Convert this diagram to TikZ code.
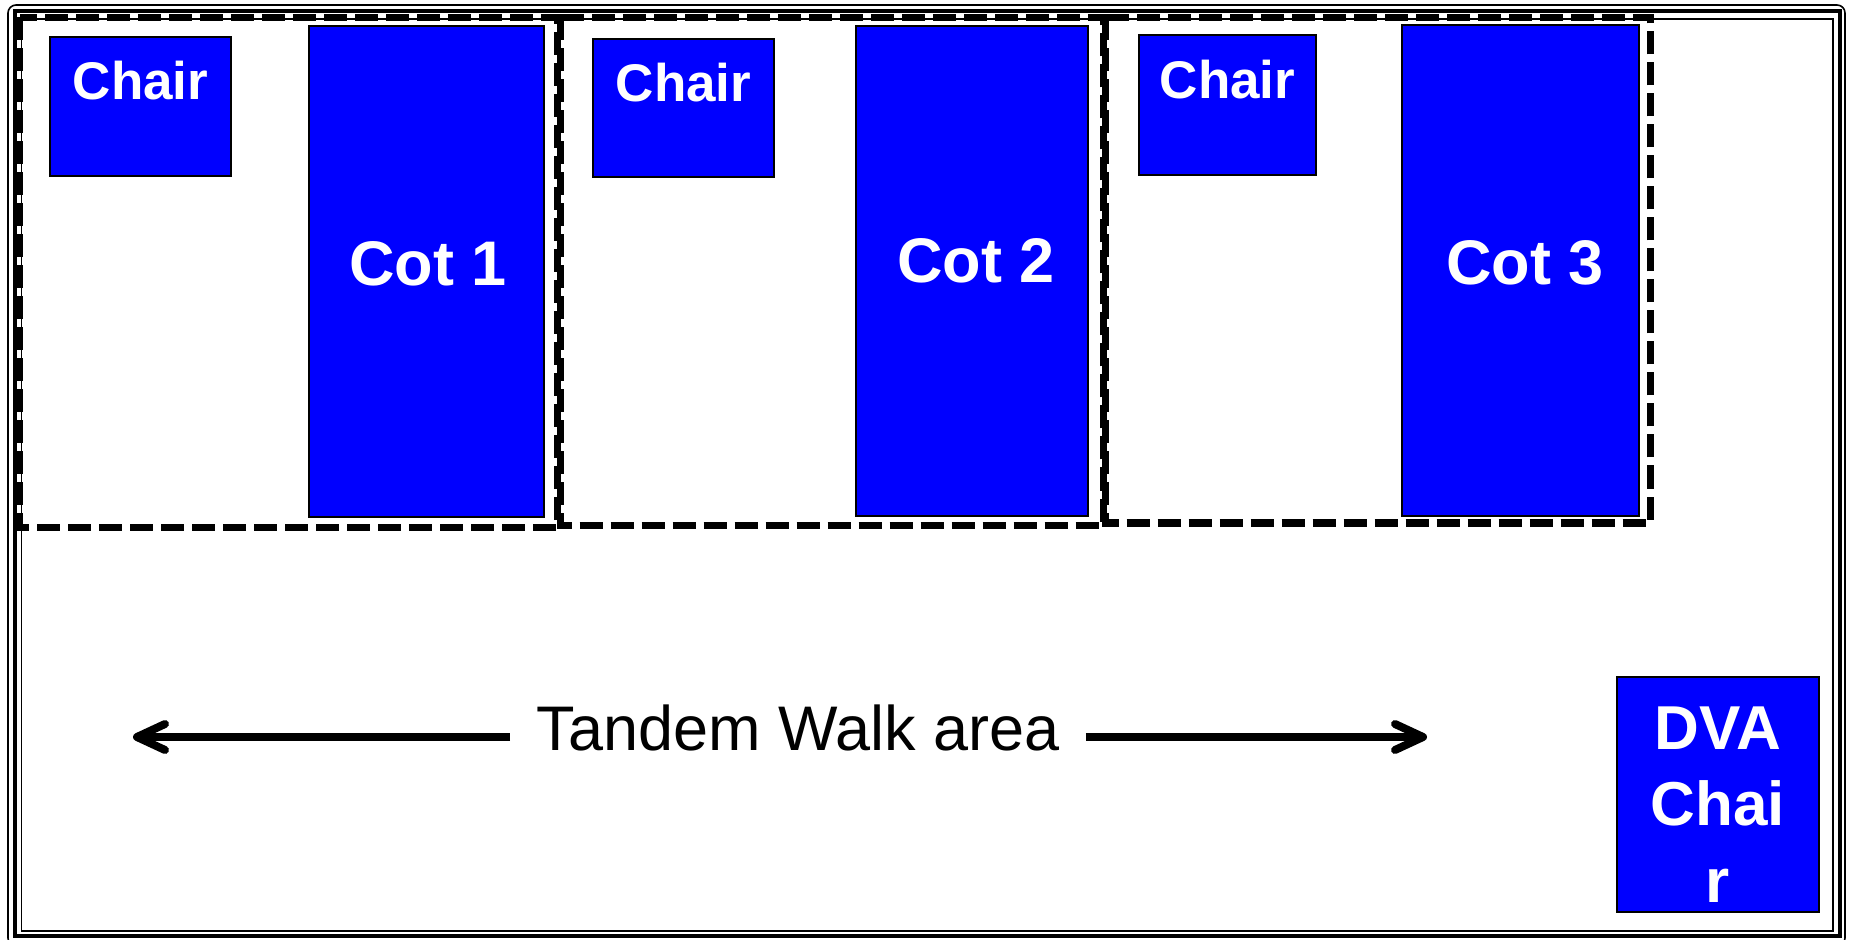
\documentclass[tikz,border=0pt]{standalone}
\usepackage{fontspec}
\setmainfont{Liberation Sans}
\usetikzlibrary{arrows.meta}
\definecolor{furn}{RGB}{0,0,255}
\begin{document}
\begin{tikzpicture}[x=0.5pt,y=-0.5pt,
  furniture/.style={fill=furn,draw=black,line width=1.3pt},
  zone/.style={draw=black,line width=3.5pt,dash pattern=on 11.5pt off 4pt},
  chairlbl/.style={text=white,font=\bfseries\fontsize{26.5}{30}\selectfont,anchor=base,inner sep=0pt},
  cotlbl/.style={text=white,font=\bfseries\fontsize{31.5}{36}\selectfont,anchor=base,inner sep=0pt},
  walkarrow/.style={line width=4pt,-{Straight Barb[length=14pt,width=13pt,round]}}]
\useasboundingbox (0,0) rectangle (1851,940);
\fill[white] (0,0) rectangle (1851,940);
% room frame
\draw[line width=0.8pt,rounded corners=4pt] (8,5) rectangle (1845,946);
\draw[line width=2pt] (14.5,11.5) rectangle (1839.5,935.5);
\draw[line width=0.8pt] (21.5,19) rectangle (1833,931);
% zones
\draw[zone] (19.5,17.5) rectangle (557,527);
\draw[zone] (560,17.5) rectangle (1103,525);
\draw[zone] (1105,17.5) rectangle (1650,523);
% furniture
\path[furniture] (50,37) rectangle (231,176);
\path[furniture] (309,26) rectangle (544,517);
\path[furniture] (593,39) rectangle (774,177);
\path[furniture] (856,26) rectangle (1088,516);
\path[furniture] (1139,35) rectangle (1316,175);
\path[furniture] (1402,25) rectangle (1639,516);
\path[furniture] (1617,677) rectangle (1819,912);
% labels
\node[chairlbl] (c1) at (140.5,100) {Chair};
\node[chairlbl] (c2) at (683.5,102) {Chair};
\node[chairlbl] (c3) at (1227.5,99) {Chair};
\node[cotlbl] (t1) at (428,286) {Cot 1};
\node[cotlbl] (t2) at (976,283) {Cot 2};
\node[cotlbl] (t3) at (1525,285) {Cot 3};
\node[text=white,font=\bfseries\fontsize{31}{38.25}\selectfont,align=center,anchor=base,inner sep=0pt] (dva) at (1718,902) {DVA\\Chai\\r};
% tandem walk
\node[font=\fontsize{31.5}{36}\selectfont,anchor=base,inner xsep=13pt,inner ysep=0pt] (walk) at (798,750) {Tandem Walk area};
\coordinate (lend) at (133,737);
\coordinate (rend) at (1427,737);
\draw[walkarrow] (walk.west |- lend) -- (lend);
\draw[walkarrow] (walk.east |- rend) -- (rend);
\end{tikzpicture}
\end{document}
